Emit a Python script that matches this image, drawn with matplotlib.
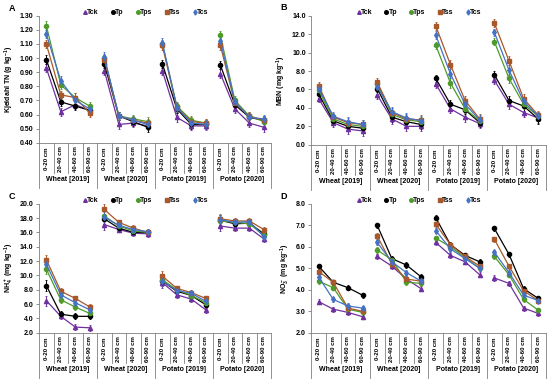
import numpy as np
import matplotlib
matplotlib.use("Agg")
from matplotlib import pyplot as plt
from matplotlib.lines import Line2D

plt.rcParams['font.family'] = ['Liberation Sans', 'DejaVu Sans']
plt.rcParams['font.weight'] = 'bold'
plt.rcParams['mathtext.fontset'] = 'custom'
plt.rcParams['mathtext.rm'] = 'Liberation Sans:bold'
plt.rcParams['mathtext.default'] = 'rm'

groups = ["Wheat [2019]", "Wheat [2020]", "Potato [2019]", "Potato [2020]"]
depths = ["0-20 cm", "20-40 cm", "40-60 cm", "60-90 cm"]
series = ["Tck", "Tp", "Tps", "Tss", "Tcs"]

# Kjeldahl TN (g/kg) -- 4 depths per group, 4 groups
tn_tck = [0.93, 0.62, 0.67, 0.63, 0.91, 0.53, 0.54, 0.52, 0.91, 0.58, 0.52, 0.52, 0.89, 0.64, 0.54, 0.51]
tn_tp = [0.99, 0.69, 0.66, 0.63, 0.96, 0.59, 0.55, 0.51, 0.96, 0.64, 0.53, 0.53, 0.95, 0.67, 0.58, 0.56]
tn_tps = [1.23, 0.81, 0.72, 0.66, 1.00, 0.59, 0.57, 0.55, 1.10, 0.66, 0.56, 0.54, 1.16, 0.70, 0.59, 0.55]
tn_tss = [1.10, 0.74, 0.72, 0.61, 0.99, 0.59, 0.56, 0.54, 1.09, 0.65, 0.55, 0.54, 1.09, 0.68, 0.59, 0.56]
tn_tcs = [1.17, 0.84, 0.70, 0.64, 1.01, 0.59, 0.56, 0.53, 1.11, 0.65, 0.54, 0.53, 1.12, 0.69, 0.58, 0.57]
tn_err = [0.03, 0.03, 0.03, 0.03]

# MBN (mg/kg)
mbn_tck = [5.0, 2.4, 1.7, 1.5, 5.4, 2.8, 2.0, 2.0, 6.6, 3.9, 3.0, 2.3, 7.0, 4.4, 3.5, 2.9]
mbn_tp = [5.5, 2.6, 2.0, 1.8, 6.1, 3.0, 2.5, 2.2, 7.2, 4.4, 3.8, 2.4, 7.6, 4.8, 4.2, 2.8]
mbn_tps = [5.9, 2.8, 2.2, 2.0, 6.6, 3.3, 2.7, 2.5, 10.8, 6.7, 3.9, 2.6, 11.2, 7.2, 4.4, 3.1]
mbn_tss = [6.4, 3.0, 2.4, 2.2, 6.8, 3.5, 2.8, 2.7, 12.9, 8.7, 4.8, 2.8, 13.2, 9.1, 5.0, 3.2]
mbn_tcs = [6.1, 3.1, 2.5, 2.2, 6.3, 3.6, 2.9, 2.6, 11.9, 7.7, 4.4, 2.7, 12.2, 8.1, 4.7, 3.1]
mbn_err = [0.4, 0.5, 0.5, 0.5]

# NH4+ (mg/kg)
nh4_tck = [6.5, 4.3, 2.8, 2.7, 17.1, 16.4, 15.9, 15.8, 9.0, 7.3, 6.7, 5.2, 16.9, 16.6, 16.6, 15.1]
nh4_tp = [8.6, 4.6, 4.3, 4.3, 17.9, 16.6, 16.0, 16.0, 9.2, 7.8, 7.2, 5.9, 17.7, 17.2, 17.3, 15.8]
nh4_tps = [10.9, 6.6, 5.6, 4.7, 18.3, 16.9, 16.2, 16.0, 9.4, 8.0, 7.2, 6.2, 17.6, 17.4, 17.2, 15.6]
nh4_tss = [12.2, 7.8, 6.8, 5.6, 19.2, 17.4, 16.6, 16.0, 9.9, 8.2, 7.6, 6.8, 17.9, 17.6, 17.6, 16.4]
nh4_tcs = [11.6, 7.3, 6.2, 5.2, 18.1, 17.0, 16.4, 16.1, 9.2, 7.9, 7.5, 6.4, 17.8, 17.4, 17.5, 15.4]
nh4_err = [0.7, 0.4, 0.4, 0.4]

# NO3- (mg/kg)
no3_tck = [3.45, 3.10, 2.95, 2.75, 5.55, 5.10, 4.50, 4.05, 6.20, 5.60, 5.30, 4.70, 4.55, 4.30, 3.15, 2.90]
no3_tp = [5.10, 4.35, 4.10, 3.75, 7.00, 5.45, 5.15, 4.60, 7.35, 6.10, 5.60, 5.30, 6.85, 5.65, 4.05, 3.60]
no3_tps = [4.40, 4.10, 3.10, 2.95, 5.85, 5.40, 4.35, 4.30, 6.40, 6.00, 5.50, 5.00, 5.55, 4.70, 3.55, 3.05]
no3_tss = [4.85, 4.35, 3.15, 3.00, 6.50, 5.20, 4.50, 4.40, 7.05, 6.10, 5.55, 5.10, 6.35, 5.10, 3.95, 3.50]
no3_tcs = [4.60, 3.55, 3.25, 3.15, 6.20, 5.30, 4.80, 4.40, 6.75, 5.90, 5.45, 5.00, 5.75, 4.80, 3.75, 3.50]
no3_err = [0.12, 0.12, 0.12, 0.12]

colors = {"Tck": "#7030A0", "Tp": "#000000", "Tps": "#4E9A2A", "Tss": "#A8582A", "Tcs": "#4472C4"}
markers = {"Tck": "^", "Tp": "o", "Tps": "o", "Tss": "s", "Tcs": "d"}

panels = [
    ("A", [0.071, 0.627, 0.422, 0.332], (0.4, 1.3), np.arange(0.4, 1.31, 0.1), "{:.2f}",
     "Kjeldahl TN (g kg$^{-1}$)", [tn_tck, tn_tp, tn_tps, tn_tss, tn_tcs], tn_err),
    ("B", [0.566, 0.622, 0.426, 0.337], (0, 14), np.arange(0, 14.1, 2), "{:.1f}",
     "MBN (mg kg$^{-1}$)", [mbn_tck, mbn_tp, mbn_tps, mbn_tss, mbn_tcs], mbn_err),
    ("C", [0.071, 0.131, 0.422, 0.337], (2, 20), np.arange(2, 20.1, 2), "{:.1f}",
     "NH$_4^+$ (mg kg$^{-1}$)", [nh4_tck, nh4_tp, nh4_tps, nh4_tss, nh4_tcs], nh4_err),
    ("D", [0.566, 0.131, 0.426, 0.337], (2, 8), np.arange(2, 8.1, 1), "{:.1f}",
     "NO$_3^-$ (mg kg$^{-1}$)", [no3_tck, no3_tp, no3_tps, no3_tss, no3_tcs], no3_err),
]

fig = plt.figure(figsize=(5.5, 3.83), dpi=100)
axcol = "#7f7f7f"

for letter, rect, ylim, yticks, fmt, ylabel, data, err in panels:
    ax = fig.add_axes(rect)
    h_px = rect[3] * 383
    for name, vals in zip(series, data):
        for g in range(4):
            x = np.arange(4) + g * 4
            y = vals[g * 4:g * 4 + 4]
            ax.errorbar(x, y, yerr=err, color=colors[name], marker=markers[name],
                        ms=3.0, lw=0.9, elinewidth=0.7, capsize=1.0, capthick=0.6)
    ax.set_xlim(-0.5, 15.5)
    ax.set_ylim(*ylim)
    ax.set_yticks(yticks)
    ax.set_yticklabels([fmt.format(t) for t in yticks], fontsize=5, fontweight='bold')
    ax.set_xticks([])
    for s in ["top", "right"]:
        ax.spines[s].set_visible(False)
    for s in ["left", "bottom"]:
        ax.spines[s].set_color(axcol)
        ax.spines[s].set_linewidth(0.6)
    ax.tick_params(axis='y', length=2, width=0.6, color=axcol, pad=2)
    ax.set_ylabel(ylabel, fontsize=5, fontweight='bold', labelpad=3)

    tr = ax.get_xaxis_transform()
    # category dividers and group dividers below the axis
    for g in range(4):
        for k in range(3):
            xb = g * 4 + k + 0.5
            ax.plot([xb, xb], [0, -30 / h_px], transform=tr, color=axcol, lw=0.6, clip_on=False)
        for k, d in enumerate(depths):
            ax.text(g * 4 + k, -16 / h_px, d, transform=tr, rotation=90, fontsize=4.3,
                    ha='center', va='center', fontweight='bold')
        ax.text(g * 4 + 1.5, -37 / h_px, groups[g], transform=tr, fontsize=5,
                ha='center', va='center', fontweight='bold')
    for xb in [-0.5, 3.5, 7.5, 11.5, 15.5]:
        ax.plot([xb, xb], [0, -45 / h_px], transform=tr, color=axcol, lw=0.6, clip_on=False)

    ax.text(-0.13, 1.06, letter, transform=ax.transAxes, fontsize=6.5, fontweight='bold',
            ha='left', va='center')

    handles = [Line2D([], [], color=colors[n], marker=markers[n], ls='none', ms=2.6) for n in series]
    ax.legend(handles, series, loc='center', bbox_to_anchor=(0.46, 1.025), ncol=5,
              frameon=False, fontsize=5, handlelength=0.5, handletextpad=0.05,
              columnspacing=1.8, borderaxespad=0)

fig.savefig("out.png", dpi=100)
